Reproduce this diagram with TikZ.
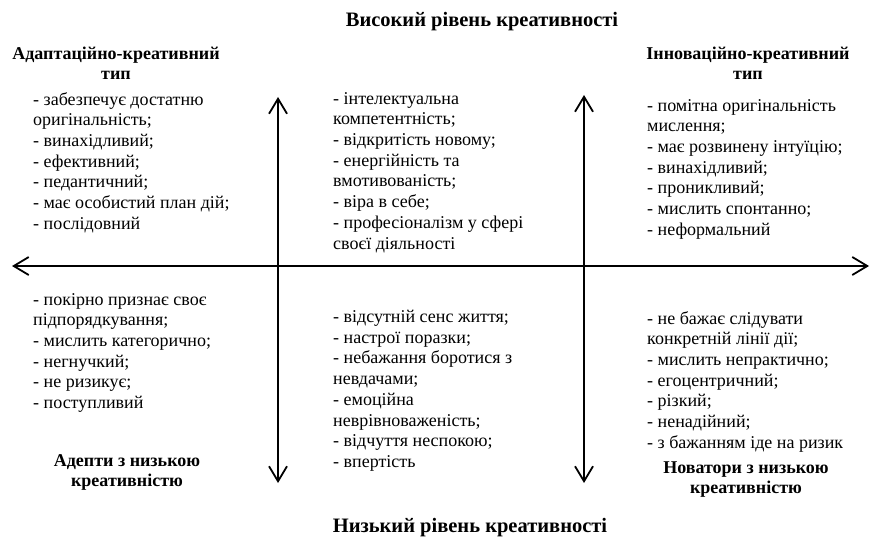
\documentclass[tikz,border=0pt]{standalone}
\usepackage{fontspec}
\setmainfont{Liberation Serif}
\usetikzlibrary{arrows.meta}
\tikzset{
  txt/.style={anchor=north west, inner sep=0pt, align=left,
    font=\fontsize{18}{20.7}\selectfont},
  head/.style={inner sep=0pt, align=center,
    font=\bfseries\fontsize{18}{20}\selectfont},
  title/.style={inner sep=0pt, font=\bfseries\fontsize{20.5}{24}\selectfont},
  barb/.tip={Straight Barb[length=15pt,width=18pt,line width=1.8pt]},
  axis/.style={line width=1.8pt, barb-barb}
}
\begin{document}
\begin{tikzpicture}[x=1pt,y=-1pt]
\useasboundingbox (0,0) rectangle (872,540);
% axes
\coordinate (hl) at (12,266);
\coordinate (hr) at (869,266);
\coordinate (v1t) at (278,97);
\coordinate (v1b) at (278,483);
\coordinate (v2t) at (584,95);
\coordinate (v2b) at (584,483);
\draw[axis] (hl) -- (hr);
\draw[axis] (v1t) -- (v1b);
\draw[axis] (v2t) -- (v2b);
% headings
\node[title] (top) at (482,22) {Високий рівень креативності};
\node[title] (bot) at (470,528) {Низький рівень креативності};
\node[head] (adapt) at (116,63) {Адаптаційно-креативний\\тип};
\node[head] (innov) at (748,63) {Інноваційно-креативний\\тип};
\node[head] (adept) at (127,472) {Адепти з низькою\\креативністю};
\node[head] (novat) at (746,480) {Новатори з низькою\\креативністю};
% lists
\node[txt] (lt) at (33,92) {- забезпечує достатню\\оригінальність;\\- винахідливий;\\- ефективний;\\- педантичний;\\- має особистий план дій;\\- послідовний};
\node[txt] (mt) at (333,92) {- інтелектуальна\\компетентність;\\- відкритість новому;\\- енергійність та\\вмотивованість;\\- віра в себе;\\- професіоналізм у сфері\\своєї діяльності};
\node[txt] (rt) at (647,99) {- помітна оригінальність\\мислення;\\- має розвинену інтуїцію;\\- винахідливий;\\- проникливий;\\- мислить спонтанно;\\- неформальний};
\node[txt] (lb) at (33,293) {- покірно признає своє\\підпорядкування;\\- мислить категорично;\\- негнучкий;\\- не ризикує;\\- поступливий};
\node[txt] (mb) at (333,310) {- відсутній сенс життя;\\- настрої поразки;\\- небажання боротися з\\невдачами;\\- емоційна\\неврівноваженість;\\- відчуття неспокою;\\- впертість};
\node[txt] (rb) at (647,311) {- не бажає слідувати\\конкретній лінії дії;\\- мислить непрактично;\\- егоцентричний;\\- різкий;\\- ненадійний;\\- з бажанням іде на ризик};
\end{tikzpicture}
\end{document}
